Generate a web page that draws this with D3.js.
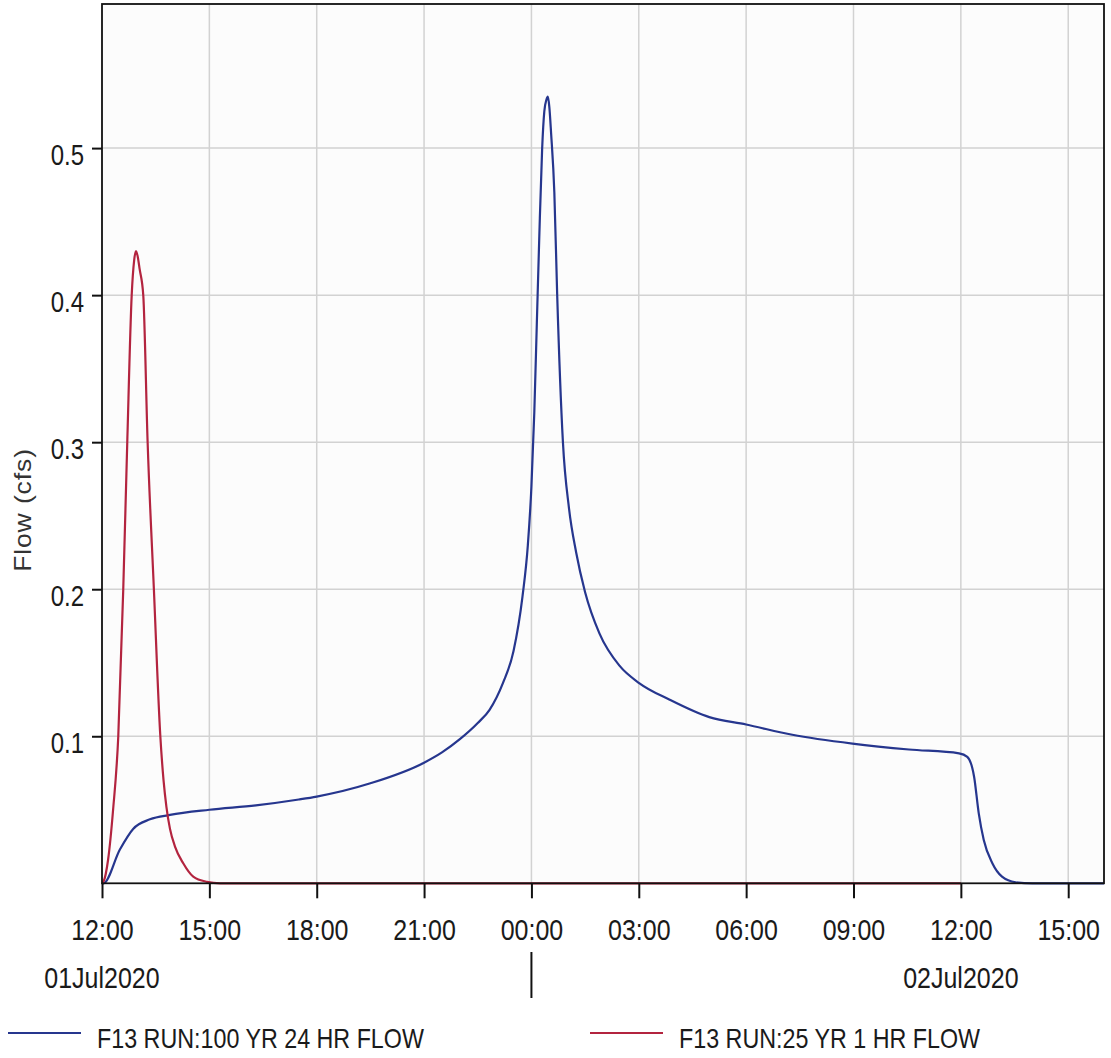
<!DOCTYPE html>
<html>
<head>
<meta charset="utf-8">
<script src="https://cdn.jsdelivr.net/npm/d3@7"></script>
<style>
    body { margin: 0; background: #fff; }
    svg { display: block; font-family: "Liberation Sans", Arial, sans-serif; }
</style>
</head>
<body>
<svg id="chart" width="1111" height="1058"></svg>
<script>
// --- Data (hours after 01Jul2020 12:00, flow in cfs) ---
const startTime = new Date(2020, 6, 1, 12, 0);
const endHours = 28;

const blueHours = [0, 0.04, 0.5, 0.87, 1.34, 1.9, 3.0, 4.3, 5.5, 6.0, 7.5, 9.0, 9.5, 10.0, 10.5, 10.83, 11.2, 11.5,
    11.75, 11.9, 12.0, 12.08, 12.15, 12.22, 12.3, 12.36, 12.42, 12.46, 12.5, 12.55, 12.64, 12.72,
    12.88, 13.05, 13.25, 13.5, 13.9, 14.46, 15.02, 15.85, 16.97, 18.0, 19.29, 20.97, 22.55,
    23.95, 24.18, 24.37, 24.5, 24.64, 24.88, 25.15, 25.53, 26.0, 28];
const blueFlow = [0, 0, 0.023, 0.037, 0.0435, 0.0465, 0.05, 0.053, 0.057, 0.059, 0.068, 0.082, 0.089, 0.098, 0.109, 0.118, 0.136, 0.158,
    0.195, 0.23, 0.27, 0.32, 0.38, 0.44, 0.5, 0.525, 0.533, 0.535, 0.528, 0.51, 0.47, 0.4,
    0.3, 0.255, 0.225, 0.198, 0.17, 0.148, 0.136, 0.125, 0.113, 0.108, 0.101, 0.095, 0.091,
    0.0884, 0.086, 0.0725, 0.0476, 0.0295, 0.0136, 0.0045, 0.0007, 0, 0];

const redHours = [0, 0.04, 0.17, 0.31, 0.455, 0.594, 0.706, 0.83, 0.9, 0.95, 1.0, 1.05, 1.153, 1.275, 1.45,
    1.63, 1.72, 1.8, 1.9, 2.04, 2.27, 2.55, 2.93, 3.3, 24];
const redFlow = [0, 0.001, 0.016, 0.05, 0.1, 0.2, 0.3, 0.4, 0.424, 0.43, 0.426, 0.418, 0.4, 0.3, 0.2,
    0.1, 0.07, 0.052, 0.037, 0.025, 0.0136, 0.0045, 0.001, 0, 0];

const seriesNames = ['F13 RUN:100 YR 24 HR FLOW', 'F13 RUN:25 YR 1 HR FLOW'];
const seriesColors = ['#26368e', '#b3243f'];

const yTicks = [0.1, 0.2, 0.3, 0.4, 0.5];
const xTickHours = [0, 3, 6, 9, 12, 15, 18, 21, 24, 27];
const dateLabels = ['01Jul2020', '02Jul2020'];
const dateLabelHours = [0, 24];
const dayBreakHours = [12];

// --- Setup ---
const toTime = h => new Date(startTime.getTime() + h * 3600 * 1000);
const svg = d3.select('#chart');
const plot = { left: 102, right: 1104, top: 4, bottom: 883.3 };
const textColor = '#1a1a1a';

const x = d3.scaleTime()
    .domain([startTime, toTime(endHours)])
    .range([plot.left, plot.right]);
const y = d3.scaleLinear()
    .domain([0, 0.598])
    .range([plot.bottom, plot.top]);

// Plot background
svg.append('rect')
    .attr('x', plot.left).attr('y', plot.top)
    .attr('width', plot.right - plot.left).attr('height', plot.bottom - plot.top)
    .attr('fill', '#fcfcfc');

// Grid
svg.append('g').selectAll('line')
    .data(xTickHours.slice(1))
    .join('line')
    .attr('x1', d => x(toTime(d))).attr('x2', d => x(toTime(d)))
    .attr('y1', plot.top).attr('y2', plot.bottom)
    .attr('stroke', '#d2d2d2').attr('stroke-width', 1.5);

svg.append('g').selectAll('line')
    .data(yTicks)
    .join('line')
    .attr('x1', plot.left).attr('x2', plot.right)
    .attr('y1', d => y(d)).attr('y2', d => y(d))
    .attr('stroke', '#d2d2d2').attr('stroke-width', 1.5);

// Series (blue first, red on top)
const line = d3.line()
    .x(d => x(toTime(d[0])))
    .y(d => y(d[1]))
    .curve(d3.curveMonotoneX);

const series = [
    d3.zip(blueHours, blueFlow),
    d3.zip(redHours, redFlow),
];

svg.append('g').selectAll('path')
    .data(series)
    .join('path')
    .attr('d', line)
    .attr('fill', 'none')
    .attr('stroke', (d, i) => seriesColors[i])
    .attr('stroke-width', 2.2)
    .attr('stroke-linejoin', 'round');

// Frame
svg.append('rect')
    .attr('x', plot.left).attr('y', plot.top)
    .attr('width', plot.right - plot.left).attr('height', plot.bottom - plot.top)
    .attr('fill', 'none').attr('stroke', '#111').attr('stroke-width', 1.8);

// Y axis
const yAxis = svg.append('g')
    .attr('transform', `translate(${plot.left},0)`)
    .call(d3.axisLeft(y).tickValues(yTicks).tickSize(10).tickPadding(8).tickFormat(d3.format('.1f')));
yAxis.select('.domain').remove();
yAxis.selectAll('.tick line').attr('stroke', '#111').attr('stroke-width', 2);
yAxis.selectAll('.tick text')
    .attr('fill', textColor).attr('font-size', 24)
    .attr('dy', null).attr('y', 13.9)
    .attr('transform', 'scale(1,1.2)');

// X axis
const xAxis = svg.append('g')
    .attr('transform', `translate(0,${plot.bottom})`)
    .call(d3.axisBottom(x).tickValues(xTickHours.map(toTime)).tickSize(15).tickFormat(d3.timeFormat('%H:%M')));
xAxis.select('.domain').remove();
xAxis.selectAll('.tick line').attr('stroke', '#111').attr('stroke-width', 2);
xAxis.selectAll('.tick text')
    .attr('fill', textColor).attr('font-size', 25)
    .attr('dy', null).attr('y', 47.3)
    .attr('transform', 'scale(1,1.2)');

// Date labels under noon ticks
svg.append('g').selectAll('text')
    .data(dateLabels)
    .join('text')
    .attr('x', (d, i) => x(toTime(dateLabelHours[i])))
    .attr('y', 988 / 1.2)
    .attr('transform', 'scale(1,1.2)')
    .attr('text-anchor', 'middle')
    .attr('font-size', 25)
    .attr('fill', textColor)
    .text(d => d);

// Day break marker
svg.append('g').selectAll('line')
    .data(dayBreakHours)
    .join('line')
    .attr('x1', d => x(toTime(d))).attr('x2', d => x(toTime(d)))
    .attr('y1', 952).attr('y2', 998)
    .attr('stroke', '#111').attr('stroke-width', 2);

// Y axis title
svg.append('text')
    .attr('transform', 'translate(31,510) rotate(-90) scale(1.15,1)')
    .attr('text-anchor', 'middle')
    .attr('font-size', 23)
    .attr('fill', '#333')
    .attr('letter-spacing', 0.8)
    .text('Flow (cfs)');

// Legend
const legendX = [8, 590];
const legend = svg.append('g').selectAll('g')
    .data(seriesNames)
    .join('g')
    .attr('transform', (d, i) => `translate(${legendX[i]},1033)`);
legend.append('line')
    .attr('x1', 0).attr('x2', 73)
    .attr('stroke', (d, i) => seriesColors[i]).attr('stroke-width', 2.2);
legend.append('text')
    .attr('x', 89).attr('y', 15 / 1.22)
    .attr('transform', 'scale(1,1.22)')
    .attr('font-size', 23.3)
    .attr('fill', textColor)
    .text(d => d);
</script>
</body>
</html>
